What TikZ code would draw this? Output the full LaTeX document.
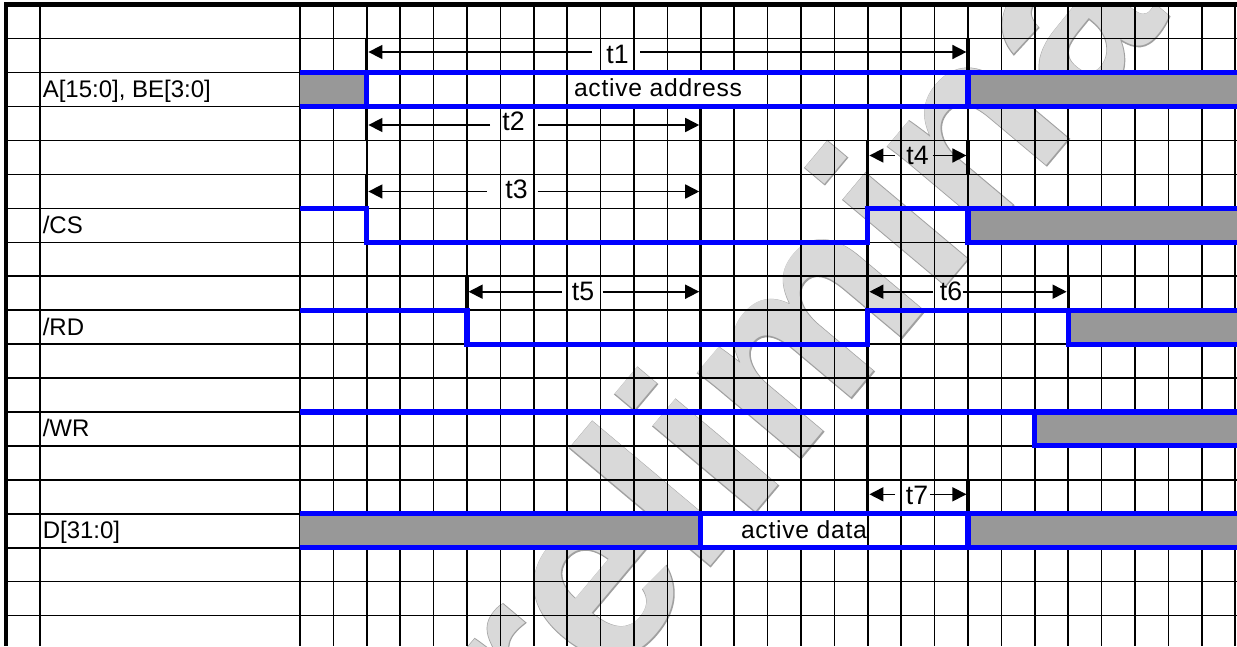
\documentclass[tikz,border=0pt]{standalone}
\usepackage{fontspec}
\setmainfont{Liberation Sans}
\newfontfamily\wmout{Liberation Sans Bold}[FakeBold=0.7]
\newfontfamily\wmin{Liberation Sans Bold}
\usetikzlibrary{arrows.meta}
\definecolor{sigblue}{RGB}{0,0,255}
\definecolor{hatchgray}{RGB}{152,152,152}
\definecolor{wmfill}{RGB}{217,217,217}
\definecolor{wmedge}{RGB}{160,160,160}
\definecolor{inkblack}{RGB}{0,0,0}
\begin{document}
\begin{tikzpicture}[x=0.75pt,y=-0.75pt,
  declare function={cx(\c)=300+33.4*\c; ry(\r)=4.6+33.95*\r;},
  gridline/.style={line width=1.1pt, draw=inkblack},
  sig/.style={line width=3.8pt, draw=sigblue, line join=miter},
  hatchbox/.style={fill=hatchgray, draw=none},
  whitebox/.style={fill=white, draw=none},
  thickline/.style={line width=2.5pt, draw=inkblack},
  framebar/.style={fill=inkblack, draw=none},
  tarrow/.style={line width=1.2pt, draw=inkblack, -{Triangle[length=10.5pt,width=10.5pt]}},
  sigtext/.style={font=\fontsize{18}{21}\selectfont, inner sep=0pt, anchor=base west},
  acttext/.style={font=\fontsize{18.5}{21}\selectfont\addfontfeature{LetterSpace=3}, inner sep=0pt, anchor=base},
  ttext/.style={font=\fontsize{20}{22}\selectfont, inner sep=0pt, anchor=base},
  wmo/.style={font=\fontsize{190}{200}\selectfont\wmout, text=wmedge, inner sep=0pt, rotate=50},
  wmi/.style={font=\fontsize{190}{200}\selectfont\wmin, text=wmfill, inner sep=0pt, rotate=50}]
\useasboundingbox (0,0) rectangle (1237,646);
\fill[white] (0,0) rectangle (1237,646);
% watermark
\begin{scope}
\clip (300,{ry(0)}) rectangle (1237,646);
\node[wmo] (wmA) at (830,322) {Preliminary};
\node[wmi] (wmB) at (830,322) {Preliminary};
\end{scope}
% grid
\foreach \k in {1,...,18} \draw[gridline] (6,{ry(\k)}) -- (1237,{ry(\k)});
\draw[gridline] (40,{ry(0)}) -- (40,646);
\foreach \c in {0,...,28} \draw[gridline] ({cx(\c)},{ry(0)}) -- ({cx(\c)},646);
% white text boxes
\fill[whitebox] ({cx(8)+1},{ry(2)}) rectangle ({cx(14)-1},{ry(3)});
\fill[whitebox] ({cx(12)},{ry(15)}) rectangle ({cx(17)-1},{ry(16)});
% hatched areas
\fill[hatchbox] (300,{ry(2)}) rectangle ({cx(2)},{ry(3)});
\fill[hatchbox] ({cx(20)},{ry(2)}) rectangle (1237,{ry(3)});
\fill[hatchbox] ({cx(20)},{ry(6)}) rectangle (1237,{ry(7)});
\fill[hatchbox] ({cx(23)},{ry(9)}) rectangle (1237,{ry(10)});
\fill[hatchbox] ({cx(22)},{ry(12)}) rectangle (1237,{ry(13)});
\fill[hatchbox] (300,{ry(15)}) rectangle ({cx(12)},{ry(16)});
\fill[hatchbox] ({cx(20)},{ry(15)}) rectangle (1237,{ry(16)});
% thick marker lines
\draw[thickline] ({cx(2)},{ry(1)}) -- ({cx(2)},{ry(2)});
\draw[thickline] ({cx(2)},{ry(3)}) -- ({cx(2)},{ry(4)});
\draw[thickline] ({cx(2)},{ry(5)}) -- ({cx(2)},{ry(6)});
\draw[thickline] ({cx(20)},{ry(1)}) -- ({cx(20)},{ry(2)});
\draw[thickline] ({cx(20)},{ry(4)}) -- ({cx(20)},{ry(5)});
\draw[thickline] ({cx(20)},{ry(14)}) -- ({cx(20)},{ry(15)});
\draw[thickline] ({cx(12)},{ry(3)}) -- ({cx(12)},{ry(15)});
\draw[thickline] ({cx(17)},{ry(4)}) -- ({cx(17)},{ry(15)});
\draw[thickline] ({cx(5)},{ry(8)}) -- ({cx(5)},{ry(9)});
\draw[thickline] ({cx(23)},{ry(8)}) -- ({cx(23)},{ry(9)});
% signals
\draw[sig] (300,{ry(2)}) -- (1237,{ry(2)});
\draw[sig] (300,{ry(3)}) -- (1237,{ry(3)});
\draw[sig] ({cx(2)},{ry(2)}) -- ({cx(2)},{ry(3)});
\draw[sig] ({cx(20)},{ry(2)}) -- ({cx(20)},{ry(3)});
\draw[sig] (300,{ry(6)}) -- ({cx(2)},{ry(6)}) -- ({cx(2)},{ry(7)}) -- ({cx(17)},{ry(7)}) -- ({cx(17)},{ry(6)}) -- (1237,{ry(6)});
\draw[sig] ({cx(20)},{ry(6)}) -- ({cx(20)},{ry(7)}) -- (1237,{ry(7)});
\draw[sig] (300,{ry(9)}) -- ({cx(5)},{ry(9)}) -- ({cx(5)},{ry(10)}) -- ({cx(17)},{ry(10)}) -- ({cx(17)},{ry(9)}) -- (1237,{ry(9)});
\draw[sig] ({cx(23)},{ry(9)}) -- ({cx(23)},{ry(10)}) -- (1237,{ry(10)});
\draw[sig] (300,{ry(12)}) -- (1237,{ry(12)});
\draw[sig] ({cx(22)},{ry(12)}) -- ({cx(22)},{ry(13)}) -- (1237,{ry(13)});
\draw[sig] (300,{ry(15)}) -- (1237,{ry(15)});
\draw[sig] (300,{ry(16)}) -- (1237,{ry(16)});
\draw[sig] ({cx(12)},{ry(15)}) -- ({cx(12)},{ry(16)});
\draw[sig] ({cx(20)},{ry(15)}) -- ({cx(20)},{ry(16)});
% frame
\fill[framebar] (3.5,2.2) rectangle (1237,7.2);
\fill[framebar] (3.5,2.2) rectangle (8.3,646);
% signal names
\node[sigtext] (nA) at (42.5,{ry(2.5)+8}) {A[15:0], BE[3:0]};
\node[sigtext] (nCS) at (42.5,{ry(6.5)+8}) {/CS};
\node[sigtext] (nRD) at (42.5,{ry(9.5)+8}) {/RD};
\node[sigtext] (nWR) at (42.5,{ry(12.5)+8}) {/WR};
\node[sigtext] (nD) at (42.5,{ry(15.5)+8}) {D[31:0]};
\node[acttext] (act) at (658,{ry(2.5)+7.5}) {active address};
\node[acttext] (actd) at (804,{ry(15.5)+7.5}) {active data};
% timing arrows: coordinates
\coordinate (t1a) at (592,52);   \coordinate (t1L) at ({cx(2)+1.6},52);
\coordinate (t1b) at (640,52);   \coordinate (t1R) at ({cx(20)-1.6},52);
\coordinate (t2a) at (490,125);  \coordinate (t2L) at ({cx(2)+1.6},125);
\coordinate (t2b) at (538,125);  \coordinate (t2R) at ({cx(12)-1.6},125);
\coordinate (t3a) at (486.7,191.5); \coordinate (t3L) at ({cx(2)+1.6},191.5);
\coordinate (t3b) at (537.7,191.5); \coordinate (t3R) at ({cx(12)-1.6},191.5);
\coordinate (t4a) at (895,155.5);  \coordinate (t4L) at ({cx(17)+1.6},155.5);
\coordinate (t4b) at (933,155.5);  \coordinate (t4R) at ({cx(20)-1.6},155.5);
\coordinate (t5a) at (561.7,291.7); \coordinate (t5L) at ({cx(5)+1.6},291.7);
\coordinate (t5b) at (602.7,291.7); \coordinate (t5R) at ({cx(12)-1.6},291.7);
\coordinate (t6a) at (933,291.7);  \coordinate (t6L) at ({cx(17)+1.6},291.7);
\coordinate (t6b) at (962.7,291.7); \coordinate (t6R) at ({cx(23)-1.6},291.7);
\coordinate (t7a) at (895,494.3);  \coordinate (t7L) at ({cx(17)+1.6},494.3);
\coordinate (t7b) at (930,494.3);  \coordinate (t7R) at ({cx(20)-1.6},494.3);
\foreach \t in {t1,t2,t3,t4,t5,t6,t7} {
  \draw[tarrow] (\t a) -- (\t L);
  \draw[tarrow] (\t b) -- (\t R);
}
\node[ttext] (l1) at (617.5,{ry(1.5)+7.5}) {t1};
\node[ttext] (l2) at (513.5,{ry(3.5)+7.5}) {t2};
\node[ttext] (l3) at (516.5,{ry(5.5)+7.5}) {t3};
\node[ttext] (l4) at (917.5,{ry(4.5)+7.5}) {t4};
\node[ttext] (l5) at (583,{ry(8.5)+7.5}) {t5};
\node[ttext] (l6) at (951,{ry(8.5)+7.5}) {t6};
\node[ttext] (l7) at (917,{ry(14.5)+7.5}) {t7};
\end{tikzpicture}
\end{document}
